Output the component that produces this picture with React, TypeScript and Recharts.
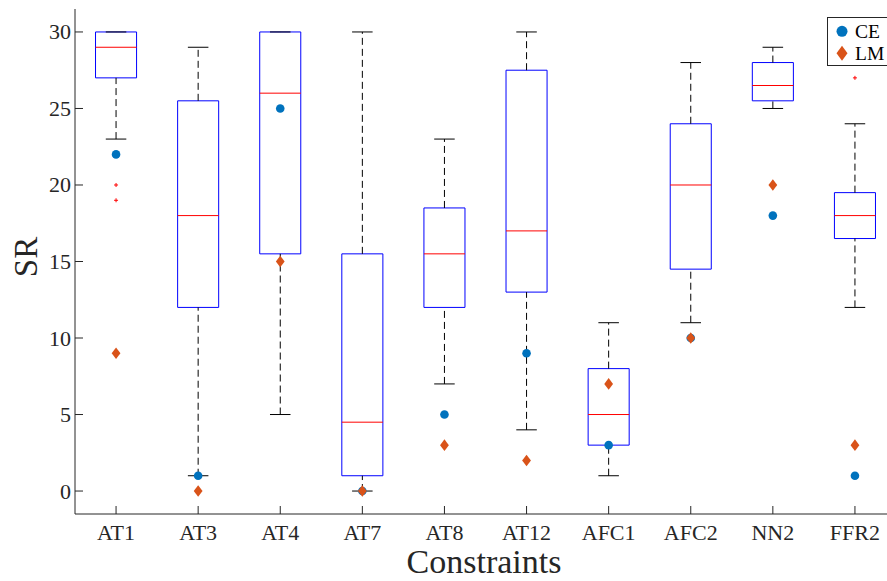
import { ComposedChart, XAxis, YAxis, Scatter, ReferenceArea, ReferenceLine, Legend } from "recharts"

const categories = ["AT1", "AT3", "AT4", "AT7", "AT8", "AT12", "AFC1", "AFC2", "NN2", "FFR2"]
const q1 = [27, 12, 15.5, 1, 12, 13, 3, 14.5, 25.5, 16.5]
const median = [29, 18, 26, 4.5, 15.5, 17, 5, 20, 26.5, 18]
const q3 = [30, 25.5, 30, 15.5, 18.5, 27.5, 8, 24, 28, 19.5]
const whiskerLow = [23, 1, 5, 0, 7, 4, 1, 11, 25, 12]
const whiskerHigh = [30, 29, 30, 30, 23, 30, 11, 28, 29, 24]
const outliers = [[20, 19], [], [], [], [], [], [], [], [], [27]]
const ceValues = [22, 1, 25, 0, 5, 9, 3, 10, 18, 1]
const lmValues = [9, 0, 15, 0, 3, 2, 7, 10, 20, 3]
const yTicks = [0, 5, 10, 15, 20, 25, 30]

const positions = categories.map((_, i) => i + 1)
const ceData = ceValues.map((v, i) => ({ x: i + 1, y: v }))
const lmData = lmValues.map((v, i) => ({ x: i + 1, y: v }))
const outlierData = outliers.flatMap((list, i) => list.map((v) => ({ x: i + 1, y: v })))

const axisColor = "#262626"
const font = '"Liberation Serif", "Times New Roman", serif'
const ceColor = "#0072BD"
const lmColor = "#D95319"
const boxHalf = 0.25
const capHalf = 0.125

function Dot(props: any) {
  const { cx, cy } = props
  return <circle cx={cx} cy={cy} r={4.3} fill={ceColor} />
}

function Diamond(props: any) {
  const { cx, cy } = props
  return <polygon points={`${cx},${cy - 5.8} ${cx + 4.4},${cy} ${cx},${cy + 5.8} ${cx - 4.4},${cy}`} fill={lmColor} />
}

function Plus(props: any) {
  const { cx, cy } = props
  return <path d={`M${cx - 2},${cy}H${cx + 2}M${cx},${cy - 2}V${cy + 2}`} stroke="#ff0000" strokeWidth={1} />
}

function XTick(props: any) {
  const { x, y, payload } = props
  return (
    <text x={x} y={y} dy={15} textAnchor="middle" fontSize={22} fontFamily={font} fill={axisColor}>
      {categories[payload.value - 1]}
    </text>
  )
}

function YTick(props: any) {
  const { x, y, payload } = props
  return (
    <text x={x} y={y} dy={7.5} textAnchor="end" fontSize={22} fontFamily={font} fill={axisColor}>
      {payload.value}
    </text>
  )
}

function LegendBox() {
  return (
    <svg width={70} height={49} style={{ display: "block" }}>
      <rect x={0.5} y={0.5} width={69} height={48} fill="#fff" stroke={axisColor} strokeWidth={1} />
      <circle cx={15} cy={14.3} r={5.5} fill={ceColor} />
      <polygon points="15,28.8 20.5,36.3 15,43.8 9.5,36.3" fill={lmColor} />
      <text x={28} y={20.8} fontSize={19.5} fontFamily={font} fill="#000">CE</text>
      <text x={28} y={42.8} fontSize={19.5} fontFamily={font} fill="#000">LM</text>
    </svg>
  )
}

export default function App() {
  return (
    <div style={{ position: "absolute", left: 0, top: 0, width: 887, height: 581, overflow: "hidden", background: "#fff", fontFamily: font }}>
      <ComposedChart width={900} height={581} margin={{ top: 9, right: 4, bottom: 0, left: 15 }}>
        <XAxis
          type="number"
          dataKey="x"
          domain={[0.5, 10.5]}
          ticks={positions}
          interval={0}
          allowDataOverflow
          height={67}
          tickSize={-8}
          tickMargin={19}
          stroke={axisColor}
          tick={<XTick />}
        />
        <XAxis
          xAxisId="top"
          orientation="top"
          type="number"
          domain={[0.5, 10.5]}
          ticks={positions}
          interval={0}
          allowDataOverflow
          height={0}
          tickSize={-8}
          tick={false}
          stroke={axisColor}
        />
        <YAxis
          type="number"
          dataKey="y"
          domain={[-1.5, 31.5]}
          ticks={yTicks}
          interval={0}
          allowDataOverflow
          width={60}
          tickSize={-8}
          tickMargin={12}
          stroke={axisColor}
          tick={<YTick />}
        />
        <YAxis
          yAxisId="right"
          orientation="right"
          type="number"
          domain={[-1.5, 31.5]}
          ticks={yTicks}
          interval={0}
          allowDataOverflow
          width={0}
          tickSize={-8}
          tick={false}
          stroke={axisColor}
        />

        {positions.map((p, i) => (
          <ReferenceLine
            key={`wh-${i}`}
            segment={[{ x: p, y: q3[i] }, { x: p, y: whiskerHigh[i] }]}
            stroke="#000"
            strokeDasharray="7 4"
          />
        ))}
        {positions.map((p, i) => (
          <ReferenceLine
            key={`wl-${i}`}
            segment={[{ x: p, y: whiskerLow[i] }, { x: p, y: q1[i] }]}
            stroke="#000"
            strokeDasharray="7 4"
          />
        ))}
        {positions.map((p, i) => (
          <ReferenceLine
            key={`ch-${i}`}
            segment={[{ x: p - capHalf, y: whiskerHigh[i] }, { x: p + capHalf, y: whiskerHigh[i] }]}
            stroke="#000"
          />
        ))}
        {positions.map((p, i) => (
          <ReferenceLine
            key={`cl-${i}`}
            segment={[{ x: p - capHalf, y: whiskerLow[i] }, { x: p + capHalf, y: whiskerLow[i] }]}
            stroke="#000"
          />
        ))}
        {positions.map((p, i) => (
          <ReferenceArea
            key={`box-${i}`}
            x1={p - boxHalf}
            x2={p + boxHalf}
            y1={q1[i]}
            y2={q3[i]}
            fill="none"
            fillOpacity={0}
            stroke="#0000ff"
            strokeWidth={1}
          />
        ))}
        {positions.map((p, i) => (
          <ReferenceLine
            key={`med-${i}`}
            segment={[{ x: p - boxHalf, y: median[i] }, { x: p + boxHalf, y: median[i] }]}
            stroke="#ff0000"
          />
        ))}

        <Scatter name="outliers" data={outlierData} shape={<Plus />} isAnimationActive={false} legendType="none" />
        <Scatter name="CE" data={ceData} shape={<Dot />} isAnimationActive={false} />
        <Scatter name="LM" data={lmData} shape={<Diamond />} isAnimationActive={false} />

        <Legend
          layout="vertical"
          align="center"
          verticalAlign="middle"
          wrapperStyle={{ left: 827, top: 16.5, width: 70, height: 49 }}
          content={() => <LegendBox />}
        />
      </ComposedChart>
      <svg width={887} height={581} style={{ position: "absolute", left: 0, top: 0, pointerEvents: "none" }}>
        <text x={37} y={257} transform="rotate(-90 37 257)" textAnchor="middle" fontSize={33} fontFamily={font} fill={axisColor}>
          SR
        </text>
        <text x={484} y={573} textAnchor="middle" fontSize={34} fontFamily={font} fill={axisColor}>
          Constraints
        </text>
      </svg>
    </div>
  )
}
